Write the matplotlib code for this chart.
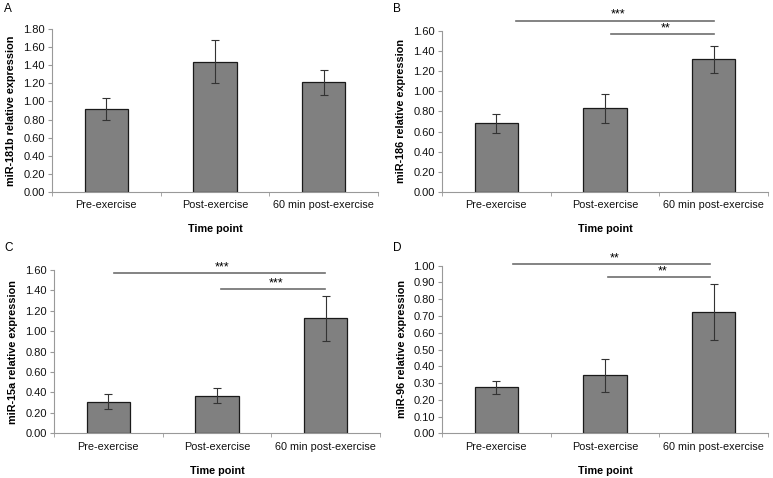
import matplotlib
matplotlib.use("Agg")
import matplotlib.pyplot as plt
import numpy as np

plt.rcParams['font.family'] = ['Liberation Sans', 'DejaVu Sans']

categories = ["Pre-exercise", "Post-exercise", "60 min post-exercise"]

a_vals = [0.92, 1.44, 1.21]
a_err = [0.12, 0.24, 0.135]
b_vals = [0.68, 0.83, 1.315]
b_err = [0.09, 0.145, 0.135]
c_vals = [0.31, 0.37, 1.125]
c_err = [0.075, 0.07, 0.225]
d_vals = [0.275, 0.345, 0.725]
d_err = [0.04, 0.10, 0.167]

a_ticks = [0.0, 0.2, 0.4, 0.6, 0.8, 1.0, 1.2, 1.4, 1.6, 1.8]
b_ticks = [0.0, 0.2, 0.4, 0.6, 0.8, 1.0, 1.2, 1.4, 1.6]
c_ticks = [0.0, 0.2, 0.4, 0.6, 0.8, 1.0, 1.2, 1.4, 1.6]
d_ticks = [0.0, 0.1, 0.2, 0.3, 0.4, 0.5, 0.6, 0.7, 0.8, 0.9, 1.0]

# significance: (x_start, x_end, y, label)
b_sig = [(0.18, 2.0, 1.697, "***"), (1.055, 2.0, 1.563, "**")]
c_sig = [(0.05, 1.99, 1.57, "***"), (1.04, 1.99, 1.413, "***")]
d_sig = [(0.155, 1.97, 1.01, "**"), (1.03, 1.97, 0.93, "**")]

W, H = 773, 478
fig = plt.figure(figsize=(W / 100, H / 100), dpi=100)


def px_axes(left, top, right, bottom):
    return fig.add_axes([left / W, 1 - bottom / H, (right - left) / W, (bottom - top) / H])


def panel(ax, vals, errs, ticks, ylabel, fmt, sig):
    x = np.arange(len(categories))
    ax.bar(x, vals, width=0.4, color="#808080", edgecolor="#1a1a1a", linewidth=0.9, zorder=2)
    ax.errorbar(x, vals, yerr=errs, fmt="none", ecolor="#333333", elinewidth=0.8,
                capsize=3, capthick=0.8, zorder=3)
    ax.set_xlim(-0.5, 2.5)
    ax.set_ylim(ticks[0], ticks[-1])
    ax.set_yticks(ticks)
    ax.set_yticklabels([fmt.format(t) for t in ticks], fontsize=8, color="#111111")
    ax.set_xticks(x)
    ax.set_xticklabels(categories, fontsize=7.8, color="#111111")
    ax.set_xticks([-0.5, 0.5, 1.5, 2.5], minor=True)
    ax.tick_params(axis="x", which="major", length=0, pad=6)
    ax.tick_params(axis="x", which="minor", length=3, color="#999999", direction="out")
    ax.tick_params(axis="y", length=3, color="#999999", direction="out", pad=2)
    for s in ["top", "right"]:
        ax.spines[s].set_visible(False)
    for s in ["left", "bottom"]:
        ax.spines[s].set_color("#999999")
        ax.spines[s].set_linewidth(0.8)
    ax.set_ylabel(ylabel, fontsize=7.8, fontweight="bold", labelpad=5)
    ax.set_xlabel("Time point", fontsize=7.8, fontweight="bold", labelpad=10)
    for (x0, x1, y, lab) in sig:
        ax.plot([x0, x1], [y, y], color="#6e6e6e", linewidth=1.2, clip_on=False, zorder=4)
        ax.text((x0 + x1) / 2 + 0.03, y, lab, ha="center", va="bottom", fontsize=9,
                clip_on=False)


axA = px_axes(52, 29, 378, 192)
axB = px_axes(442, 30.7, 768, 192)
axC = px_axes(54, 270, 380, 433.3)
axD = px_axes(442, 265.7, 768, 433.3)

panel(axA, a_vals, a_err, a_ticks, "miR-181b relative expression", "{:.2f}", [])
panel(axB, b_vals, b_err, b_ticks, "miR-186 relative expression", "{:.2f}", b_sig)
panel(axC, c_vals, c_err, c_ticks, "miR-15a relative expression", "{:.2f}", c_sig)
panel(axD, d_vals, d_err, d_ticks, "miR-96 relative expression", "{:.2f}", d_sig)

for lab, (xp, yp) in zip("ABCD", [(4, 9), (393, 9), (4, 248), (393, 248)]):
    fig.text(xp / W, 1 - yp / H, lab, fontsize=8.5, ha="left", va="center")

fig.savefig("out.png", dpi=100)
